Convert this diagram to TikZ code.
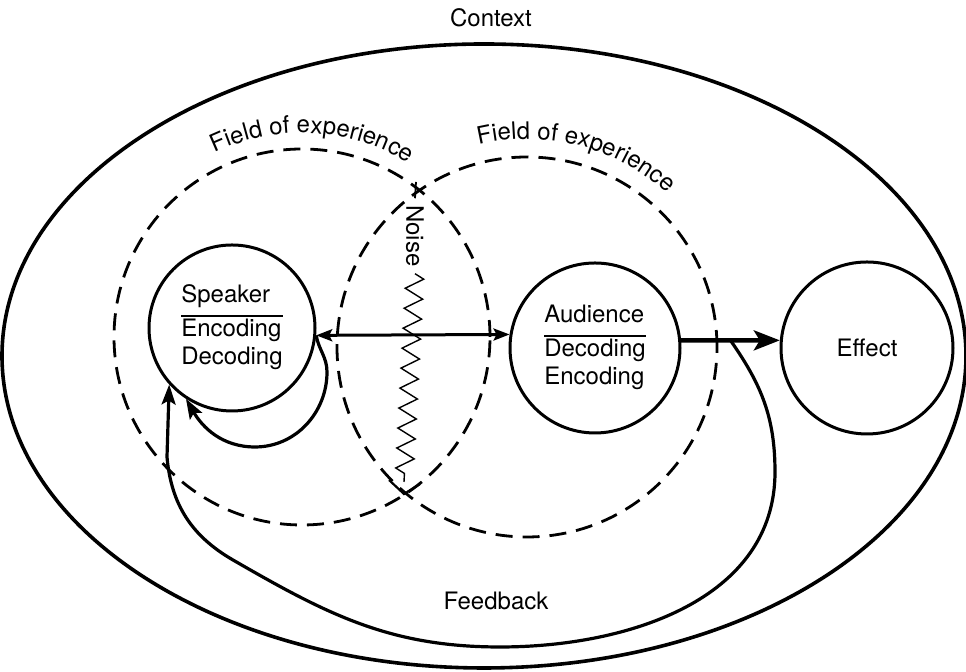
\documentclass[tikz,border=0pt]{standalone}
\usepackage{fontspec}
\setmainfont{TeX Gyre Heros}
\usepackage{tikz}
\usetikzlibrary{arrows.meta,positioning,decorations.pathmorphing,decorations.text}
\setlength{\arrayrulewidth}{1.1pt}

\begin{document}
\begin{tikzpicture}[
  x=0.5pt, y=0.5pt,
  font=\fontsize{12}{14}\selectfont,
  actor/.style={draw, circle, line width=1.5pt, minimum size=84pt, inner sep=0pt, align=center},
  field/.style={line width=1.4pt, dash pattern=on 8.5pt off 5pt},
  arr/.style={-{Stealth[length=13pt, width=10pt, inset=3pt]}, line width=2.2pt},
  biarr/.style={{Stealth[length=8pt, width=6pt, inset=1.5pt]}-{Stealth[length=8pt, width=6pt, inset=1.5pt]}, line width=1.5pt},
  fbarr/.style={-{Stealth[length=10pt, width=7pt, inset=2pt]}, line width=1.6pt},
  noisy/.style={decorate, decoration={zigzag, segment length=10pt, amplitude=4.5pt, post length=2pt}, line width=0.7pt}
]
\useasboundingbox (0,0) rectangle (966,672);

% context around everything
\node (context) at (491,654) {Context};
\draw[line width=1.8pt] (484,316) ellipse [x radius=482, y radius=312];

% the two fields of experience
\coordinate (lfield) at (302,335);
\coordinate (rfield) at (527,325);
\draw[field] (lfield) circle [radius=188];
\draw[field] (rfield) circle [radius=190];
\path[decorate, decoration={text along path, text align=center,
  text={|\fontsize{12}{14}\selectfont|Field of experience}}]
  ([shift={(135:204)}]lfield) arc [start angle=135, end angle=39, radius=204];
\path[decorate, decoration={text along path, text align=center,
  text={|\fontsize{12}{14}\selectfont|Field of experience}}]
  ([shift={(123:208)}]rfield) arc [start angle=123, end angle=28, radius=208];

\node[actor, minimum size=83pt] (speaker) at (232,344) {\begin{tabular}{@{}l@{}}Speaker\\[2pt]\hline Encoding\\Decoding\end{tabular}};

\node[actor, minimum size=85pt] (audience) at (595,324) {\begin{tabular}{@{}l@{}}Audience\\[2pt]\hline Decoding\\Encoding\end{tabular}};

\node[actor, minimum size=86pt, right=49pt of audience] (effect) {Effect};

\node (feedback) at (496,71) {Feedback};

% noise across the channel
\node[rotate=-90] (noise) at (415,436) {Noise};
\coordinate (noisetop) at (416,490);
\coordinate (noisebot) at (404,178);
\draw[line width=0.9pt] (noisetop) -- (noise.west);
\draw[noisy] (noise.east) -- ([yshift=6pt]noisebot);
\draw[line width=1.1pt] ([shift={(-15,14)}]noisebot) -- (noisebot) -- ([shift={(16,10)}]noisebot);

\draw[biarr] (speaker.-5) -- (audience.171);
\draw[arr] (audience.5) -- coordinate (branch) (effect.175);

\draw[fbarr] (branch) to[out=-55, in=90] (775,200) to[out=-90, in=0] (500,25)
  to[out=180, in=-30] (233,112) to[out=150, in=-85] (167,215) -- (speaker.222);
\draw[fbarr] (speaker.-5) to[out=-80, in=90] (327,300) to[out=-90, in=0] (255,225)
  to[out=180, in=-60] (speaker.237);

\end{tikzpicture}
\end{document}
